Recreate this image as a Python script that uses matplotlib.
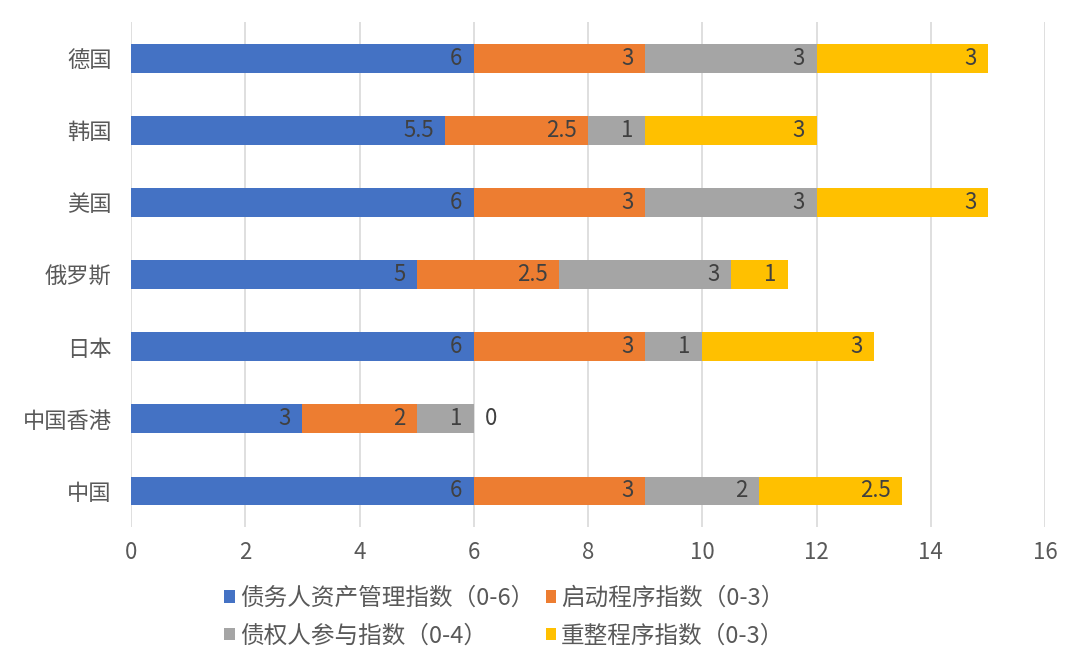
import matplotlib
matplotlib.use("Agg")
import matplotlib.pyplot as plt
import numpy as np

plt.rcParams['font.family'] = ['Noto Sans CJK SC', 'DejaVu Sans']

countries = ['中国', '中国香港', '日本', '俄罗斯', '美国', '韩国', '德国']
debtor = [6, 3, 6, 5, 6, 5.5, 6]
start = [3, 2, 3, 2.5, 3, 2.5, 3]
creditor = [2, 1, 1, 3, 3, 1, 3]
reorg = [2.5, 0, 3, 1, 3, 3, 3]

series = [
    ('债务人资产管理指数（0-6）', debtor, '#4472C4'),
    ('启动程序指数（0-3）', start, '#ED7D31'),
    ('债权人参与指数（0-4）', creditor, '#A5A5A5'),
    ('重整程序指数（0-3）', reorg, '#FFC000'),
]

fig = plt.figure(figsize=(10.8, 6.63), dpi=100)
ax = fig.add_axes([0.1213, 0.2051, 0.8463, 0.7617])

y = np.arange(len(countries))
left = np.zeros(len(countries))
bars = {}
for name, vals, color in series:
    vals = np.array(vals, dtype=float)
    b = ax.barh(y, vals, left=left, height=0.4, color=color, label=name, zorder=3)
    bars[name] = b
    for yi, l, v in zip(y, left, vals):
        if v > 0:
            ax.text(l + v - 0.2, yi, f'{v:g}', ha='right', va='center',
                    fontsize=16, color='#404040', zorder=4)
        else:
            ax.text(l + v + 0.2, yi, f'{v:g}', ha='left', va='center',
                    fontsize=16, color='#404040', zorder=4)
    left = left + vals

ax.set_xlim(0, 16)
ax.set_ylim(-0.5, len(countries) - 0.5)
ax.set_xticks(range(0, 17, 2))
ax.set_yticks(y)
ax.set_yticklabels(countries)
ax.tick_params(axis='both', length=0, labelsize=16, labelcolor='#595959')
ax.tick_params(axis='x', pad=10)
ax.tick_params(axis='y', pad=14)
ax.grid(axis='x', color='#D9D9D9', linewidth=1.2, zorder=0)
for s in ax.spines.values():
    s.set_visible(False)

h = [bars[s[0]] for s in series]
order = [0, 2, 1, 3]
leg = fig.legend([h[i] for i in order], [series[i][0] for i in order],
                 ncol=2, loc='center', bbox_to_anchor=(0.467, 0.069),
                 frameon=False, fontsize=17, handlelength=0.45, handleheight=0.45,
                 handletextpad=0.2, columnspacing=0.5, labelspacing=0.6)
for t in leg.get_texts():
    t.set_color('#595959')

fig.savefig('out.png', dpi=100)
